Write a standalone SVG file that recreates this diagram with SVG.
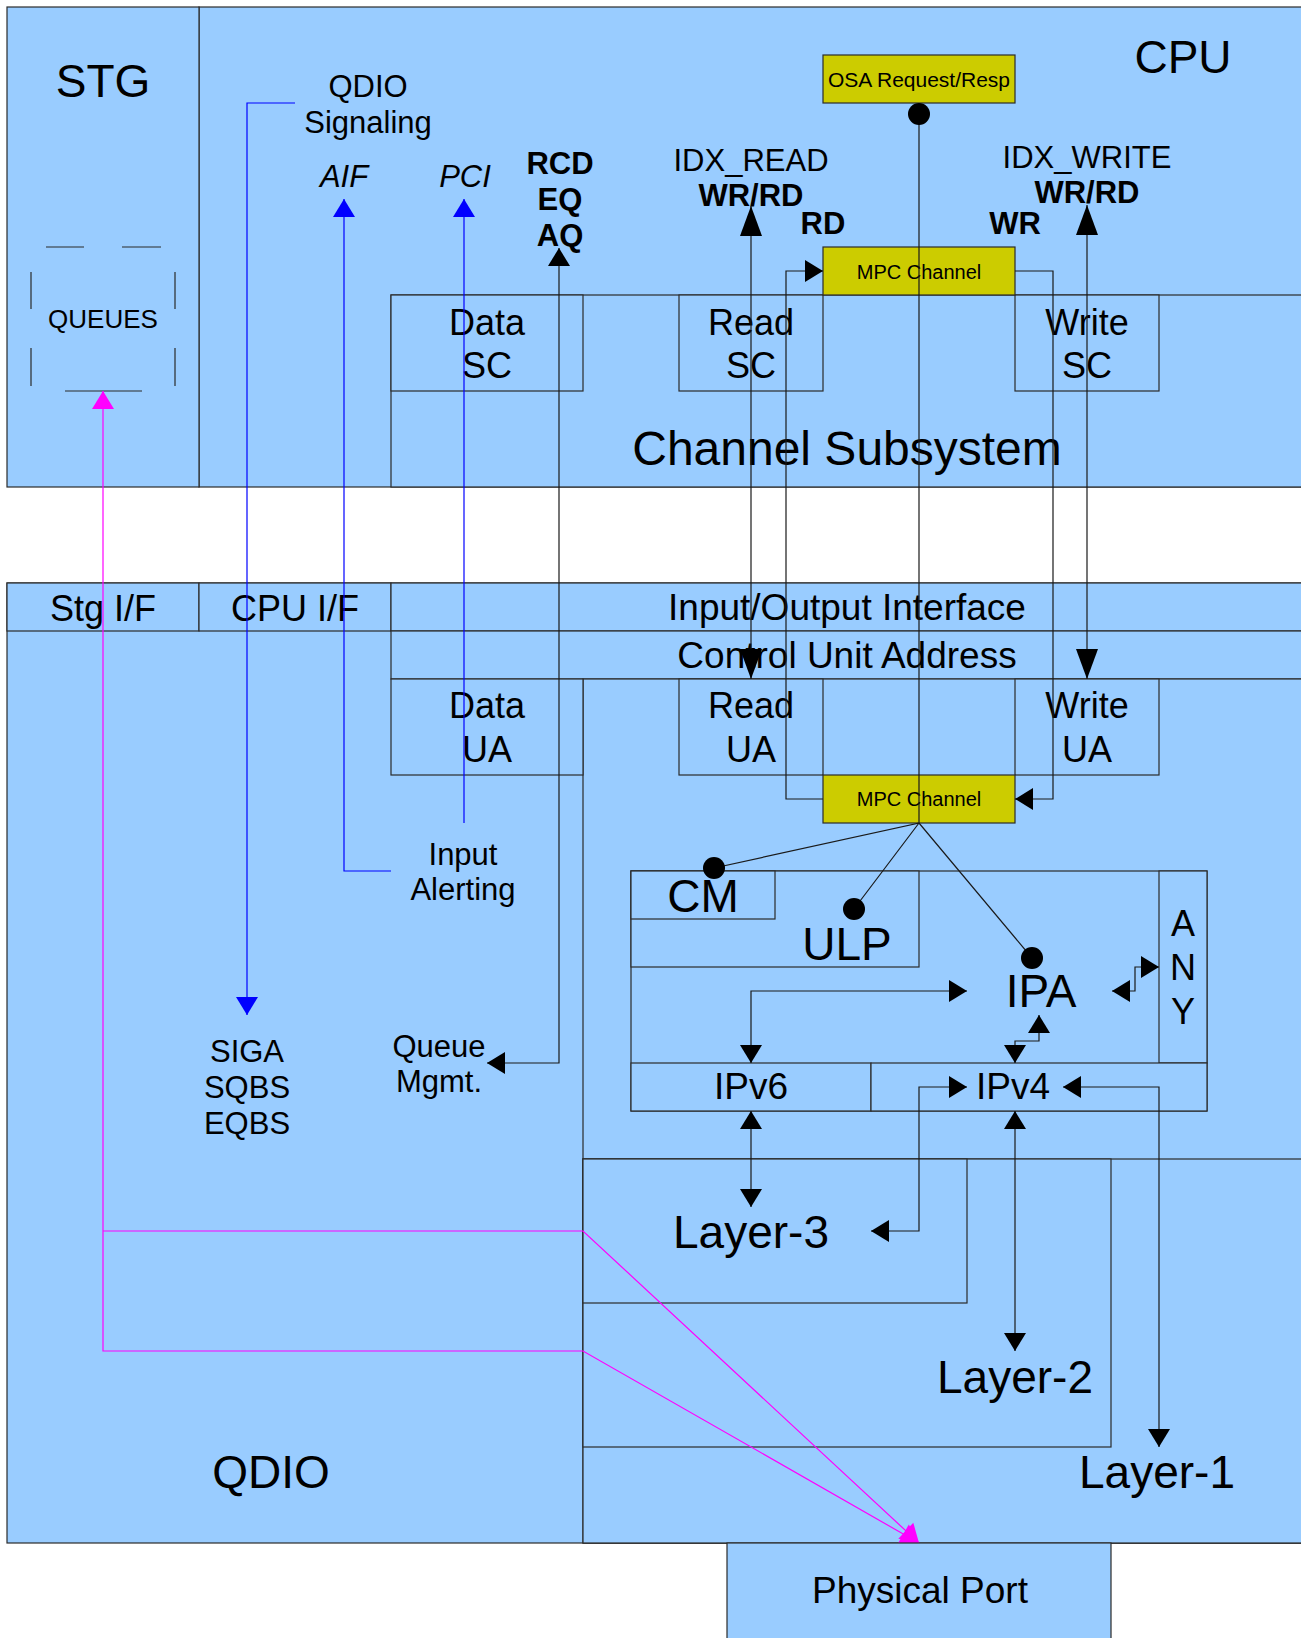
<svg xmlns="http://www.w3.org/2000/svg" width="1301" height="1638" viewBox="0 0 1301 1638">
<style>
.box{fill:#99ccff;stroke:#2b2b2b;stroke-width:1.2}
.ybox{fill:#cccc00;stroke:#2b2b2b;stroke-width:1.2}
.ln{fill:none;stroke:#1a1a1a;stroke-width:1.2}
.dash{fill:none;stroke:#2b2b2b;stroke-width:1.2}
.blue{fill:none;stroke:#0000ff;stroke-width:1.2}
.mag{fill:none;stroke:#ff00ff;stroke-width:1.2}
text{font-family:"Liberation Sans",Arial,sans-serif;fill:#000;text-anchor:middle}
.t46{font-size:46px}
.t48{font-size:48px}
.t37{font-size:37px}
.t36{font-size:36px}
.t31{font-size:31px}
.b31{font-size:31px;font-weight:bold}
.i31{font-size:31px;font-style:italic}
.t26{font-size:26px}
.t21{font-size:21px}
.t20{font-size:20px}
</style>
<defs>
<marker id="ah" markerUnits="userSpaceOnUse" markerWidth="18" markerHeight="22" refX="18" refY="11" orient="auto-start-reverse" overflow="visible"><path d="M0,0 L18,11 L0,22 Z" fill="#000"/></marker>
<marker id="ahl" markerUnits="userSpaceOnUse" markerWidth="30" markerHeight="22" refX="30" refY="11" orient="auto-start-reverse" overflow="visible"><path d="M0,0 L30,11 L0,22 Z" fill="#000"/></marker>
<marker id="ahb" markerUnits="userSpaceOnUse" markerWidth="18" markerHeight="22" refX="18" refY="11" orient="auto-start-reverse" overflow="visible"><path d="M0,0 L18,11 L0,22 Z" fill="#0000ff"/></marker>
<marker id="ahm" markerUnits="userSpaceOnUse" markerWidth="18" markerHeight="22" refX="18" refY="11" orient="auto-start-reverse" overflow="visible"><path d="M0,0 L18,11 L0,22 Z" fill="#ff00ff"/></marker>
</defs>

<g id="cpu"><rect class="box" x="199" y="7" width="1110" height="480"/><text class="t46" x="1183" y="73">CPU</text></g>
<g id="stg"><rect class="box" x="7" y="7" width="192" height="480"/><text class="t46" x="103" y="97">STG</text></g>
<g id="queues">
<path class="dash" d="M46,247H84M122,247H161M31,272V309M31,348V386M175,272V309M175,348V386M65,391H142"/>
<text class="t26" x="103" y="328">QUEUES</text></g>
<g id="qdio-signaling"><text class="t31" x="368" y="97">QDIO</text><text class="t31" x="368" y="133">Signaling</text></g>
<g id="aif"><text class="i31" x="344" y="187">AIF</text></g>
<g id="pci"><text class="i31" x="465" y="187">PCI</text></g>
<g id="rcd"><text class="b31" x="560" y="174">RCD</text><text class="b31" x="560" y="210">EQ</text><text class="b31" x="560" y="246">AQ</text></g>
<g id="osa"><rect class="ybox" x="823" y="55" width="192" height="48"/><text class="t21" x="919" y="87">OSA Request/Resp</text></g>
<g id="idx-read"><text class="t31" x="751" y="171">IDX_READ</text><text class="b31" x="751" y="206">WR/RD</text><text class="b31" x="823" y="234">RD</text></g>
<g id="idx-write"><text class="t31" x="1087" y="168">IDX_WRITE</text><text class="b31" x="1087" y="203">WR/RD</text><text class="b31" x="1015" y="234">WR</text></g>
<g id="channel-subsystem"><rect class="box" x="391" y="295" width="918" height="192"/><text class="t48" x="847" y="465">Channel Subsystem</text></g>
<g id="data-sc"><rect class="box" x="391" y="295" width="192" height="96"/><text class="t36" x="487" y="335">Data</text><text class="t36" x="487" y="378">SC</text></g>
<g id="read-sc"><rect class="box" x="679" y="295" width="144" height="96"/><text class="t36" x="751" y="335">Read</text><text class="t36" x="751" y="378">SC</text></g>
<g id="write-sc"><rect class="box" x="1015" y="295" width="144" height="96"/><text class="t36" x="1087" y="335">Write</text><text class="t36" x="1087" y="378">SC</text></g>
<g id="mpc-top"><rect class="ybox" x="823" y="247" width="192" height="48"/><text class="t20" x="919" y="279">MPC Channel</text></g>

<g id="qdio"><rect class="box" x="7" y="583" width="1302" height="960"/><text class="t46" x="271" y="1488">QDIO</text></g>
<g id="stg-if"><rect class="box" x="7" y="583" width="192" height="48"/><text class="t36" x="103" y="621">Stg I/F</text></g>
<g id="cpu-if"><rect class="box" x="199" y="583" width="192" height="48"/><text class="t36" x="295" y="621">CPU I/F</text></g>
<g id="io-interface"><rect class="box" x="391" y="583" width="918" height="48"/><text class="t37" x="847" y="620">Input/Output Interface</text></g>
<g id="cua"><rect class="box" x="391" y="631" width="918" height="48"/><text class="t37" x="847" y="668">Control Unit Address</text></g>
<g id="osa-area"><rect class="box" x="583" y="679" width="726" height="864"/></g>
<g id="data-ua"><rect class="box" x="391" y="679" width="192" height="96"/><text class="t36" x="487" y="718">Data</text><text class="t36" x="487" y="762">UA</text></g>
<g id="read-ua"><rect class="box" x="679" y="679" width="144" height="96"/><text class="t36" x="751" y="718">Read</text><text class="t36" x="751" y="762">UA</text></g>
<g id="write-ua"><rect class="box" x="1015" y="679" width="144" height="96"/><text class="t36" x="1087" y="718">Write</text><text class="t36" x="1087" y="762">UA</text></g>
<g id="mpc-bottom"><rect class="ybox" x="823" y="775" width="192" height="48"/><text class="t20" x="919" y="806">MPC Channel</text></g>
<g id="input-alerting"><text class="t31" x="463" y="865">Input</text><text class="t31" x="463" y="900">Alerting</text></g>
<g id="siga"><text class="t31" x="247" y="1062">SIGA</text><text class="t31" x="247" y="1098">SQBS</text><text class="t31" x="247" y="1134">EQBS</text></g>
<g id="queue-mgmt"><text class="t31" x="439" y="1057">Queue</text><text class="t31" x="439" y="1092">Mgmt.</text></g>
<g id="proto"><rect class="box" x="631" y="871" width="576" height="240"/></g>
<g id="ulp"><rect class="box" x="631" y="871" width="288" height="96"/><text class="t46" x="847" y="960">ULP</text></g>
<g id="cm"><rect class="box" x="631" y="871" width="144" height="48"/><text class="t46" x="703" y="912">CM</text></g>
<g id="ipa"><text class="t46" x="1041" y="1007">IPA</text></g>
<g id="any"><rect class="box" x="1159" y="871" width="48" height="192"/><text class="t36" x="1183" y="936">A</text><text class="t36" x="1183" y="980">N</text><text class="t36" x="1183" y="1024">Y</text></g>
<g id="ipv6"><rect class="box" x="631" y="1063" width="240" height="48"/><text class="t37" x="751" y="1099">IPv6</text></g>
<g id="ipv4"><rect class="box" x="871" y="1063" width="336" height="48"/><text class="t37" x="1013" y="1099">IPv4</text></g>
<g id="layer-1"><rect class="box" x="583" y="1159" width="726" height="384"/><text class="t46" x="1157" y="1488">Layer-1</text></g>
<g id="layer-2"><rect class="box" x="583" y="1159" width="528" height="288"/><text class="t46" x="1015" y="1393">Layer-2</text></g>
<g id="layer-3"><rect class="box" x="583" y="1159" width="384" height="144"/><text class="t46" x="751" y="1248">Layer-3</text></g>

<g id="connectors">
<path class="blue" d="M295,103H247V1015" marker-end="url(#ahb)"/>
<path class="blue" d="M391,871H344V199" marker-end="url(#ahb)"/>
<path class="blue" d="M464,823V199" marker-end="url(#ahb)"/>
<path class="ln" d="M487,1063H559V248" marker-start="url(#ah)" marker-end="url(#ah)"/>
<path class="ln" d="M751,206V679" marker-start="url(#ahl)" marker-end="url(#ahl)"/>
<path class="ln" d="M1087,205V679" marker-start="url(#ahl)" marker-end="url(#ahl)"/>
<path class="ln" d="M823,799H786V271H823" marker-end="url(#ah)"/>
<path class="ln" d="M1015,271H1053V799H1015" marker-end="url(#ah)"/>
<path class="ln" d="M919,114V823L714,868M919,823L854,909M919,823L1032,958"/>
<circle cx="919" cy="114" r="11" fill="#000"/>
<circle cx="714" cy="868" r="11" fill="#000"/>
<circle cx="854" cy="909" r="11" fill="#000"/>
<circle cx="1032" cy="958" r="11" fill="#000"/>
<path class="ln" d="M967,991H751V1063" marker-start="url(#ah)" marker-end="url(#ah)"/>
<path class="ln" d="M1112,991H1135V967H1159" marker-start="url(#ah)" marker-end="url(#ah)"/>
<path class="ln" d="M1039,1015V1041H1015V1063" marker-start="url(#ah)" marker-end="url(#ah)"/>
<path class="ln" d="M871,1231H919V1087H967" marker-start="url(#ah)" marker-end="url(#ah)"/>
<path class="ln" d="M1063,1087H1159V1447" marker-start="url(#ah)" marker-end="url(#ah)"/>
<path class="ln" d="M751,1111V1207" marker-start="url(#ah)" marker-end="url(#ah)"/>
<path class="ln" d="M1015,1111V1351" marker-start="url(#ah)" marker-end="url(#ah)"/>
<path class="mag" d="M103,391V1351H583L919,1543" marker-start="url(#ahm)" marker-end="url(#ahm)"/>
<path class="mag" d="M103,1231H583L919,1543" marker-end="url(#ahm)"/>
</g>

<g id="physical-port"><rect class="box" x="727" y="1543" width="384" height="100"/><text class="t37" x="920" y="1603">Physical Port</text></g>
</svg>
